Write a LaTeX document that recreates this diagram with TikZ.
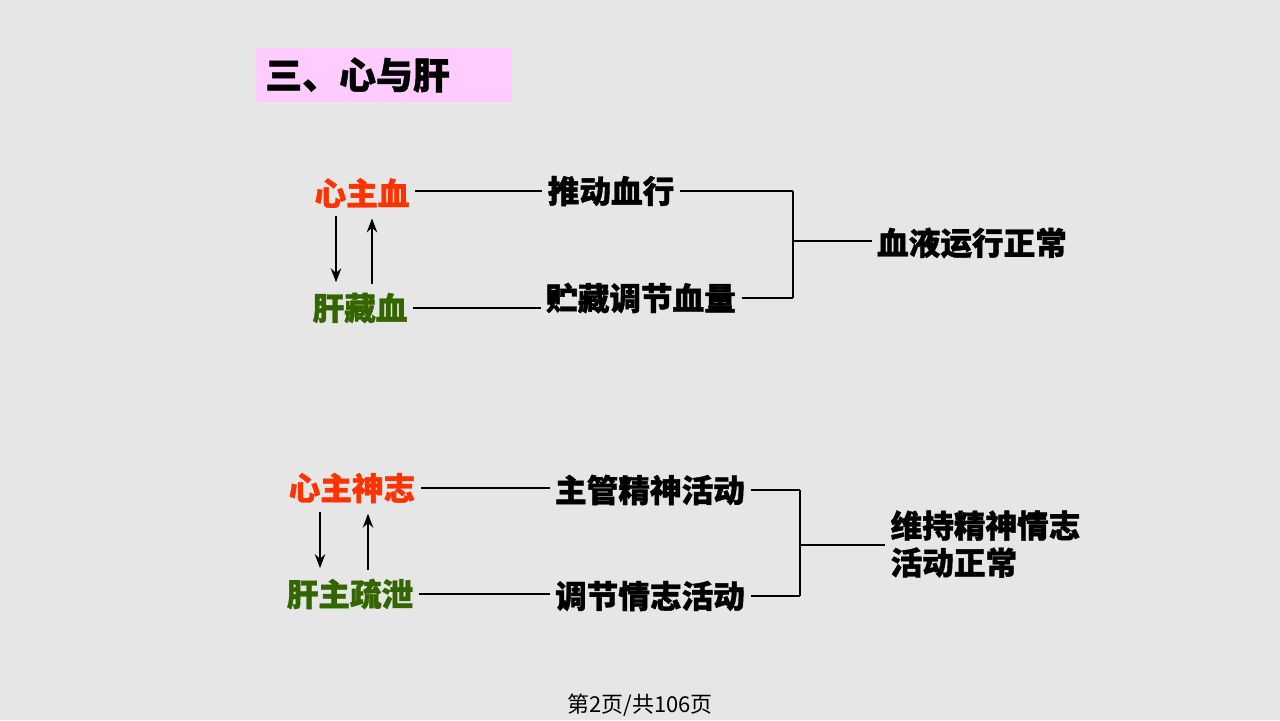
\documentclass[tikz,border=0pt]{standalone}
\usepackage{fontspec}
\newfontfamily\cjk{Noto Sans CJK SC}[BoldFeatures={FakeBold=1.2}]
\usetikzlibrary{calc,arrows.meta}
\definecolor{slidebg}{HTML}{E6E6E6}
\definecolor{titlepink}{HTML}{FFCCFF}
\definecolor{heartred}{HTML}{FF3300}
\definecolor{livergreen}{HTML}{336600}

\begin{document}
\begin{tikzpicture}[x=0.02cm, y=-0.02cm, >=Stealth,
    every node/.style={font=\cjk\bfseries\fontsize{18}{21}\selectfont, inner sep=3pt},
    heart/.style={text=heartred},
    liver/.style={text=livergreen},
    mainline/.style={line width=1.1pt},
    thinline/.style={line width=0.6pt},
    bracket/.style={line width=1.5pt},
    swap/.style={->, mainline, shorten <=0.06cm, shorten >=0.1cm}]

    \fill[slidebg] (0,0) rectangle (1280,720);
    \useasboundingbox (0,0) rectangle (1280,720);

    % title
    \node[fill=titlepink, anchor=west, minimum height=1.08cm, text width=4.76cm, inner xsep=0.18cm,
          font=\cjk\bfseries\fontsize{21}{24}\selectfont] (title) at (256,75) {三、心与肝};

    % heart and liver: blood
    \node[heart] (XZX) at (362,193) {心主血};
    \node[liver] (GZX) at (360,308) {肝藏血};
    \node (TDXX) at (611,191) {推动血行};
    \node (ZCXL) at (641,298) {贮藏调节血量};
    \node (XYZC) at (972,243) {血液运行正常};
    \coordinate (B1) at (793,241);

    \draw[swap] ([xshift=-0.52cm]XZX.south) -- ([xshift=-0.52cm]XZX.south |- GZX.north);
    \draw[swap] ([xshift=0.2cm]XZX.south |- GZX.north) -- ([xshift=0.2cm]XZX.south);
    \draw[mainline] (TDXX.west -| XZX.east) -- (TDXX.west);
    \draw[mainline] (GZX.east) -- (GZX.east -| ZCXL.west);
    \draw[thinline] (TDXX.east) -- (TDXX.east -| B1);
    \draw[thinline] (ZCXL.east) -- (ZCXL.east -| B1);
    \draw[bracket] (TDXX.east -| B1) -- (ZCXL.east -| B1);
    \draw[mainline] (B1) -- (B1 -| XYZC.west);

    % heart and liver: mind
    \node[heart] (XZSZ) at (352,488) {心主神志};
    \node[liver] (GZSX) at (350,594) {肝主疏泄};
    \node (ZGJS) at (650,490) {主管精神活动};
    \node (TJQZ) at (650,596) {调节情志活动};
    \node[anchor=west, align=left] (WCJS) at (885,544) {维持精神情志\\活动正常};
    \coordinate (B2) at (800,545);

    \draw[swap] ([xshift=-0.64cm]XZSZ.south) -- ([xshift=-0.64cm]XZSZ.south |- GZSX.north);
    \draw[swap] ([xshift=0.32cm]XZSZ.south |- GZSX.north) -- ([xshift=0.32cm]XZSZ.south);
    \draw[mainline] (XZSZ.east) -- (XZSZ.east -| ZGJS.west);
    \draw[mainline] (GZSX.east) -- (GZSX.east -| TJQZ.west);
    \draw[thinline] (ZGJS.east) -- (ZGJS.east -| B2);
    \draw[thinline] (TJQZ.east) -- (TJQZ.east -| B2);
    \draw[bracket] (ZGJS.east -| B2) -- (TJQZ.east -| B2);
    \draw[mainline] (B2) -- (B2 -| WCJS.west);

    % page number
    \node[font=\cjk\fontsize{12.5}{15}\selectfont] (page) at (640,705) {第2页/共106页};
\end{tikzpicture}
\end{document}
